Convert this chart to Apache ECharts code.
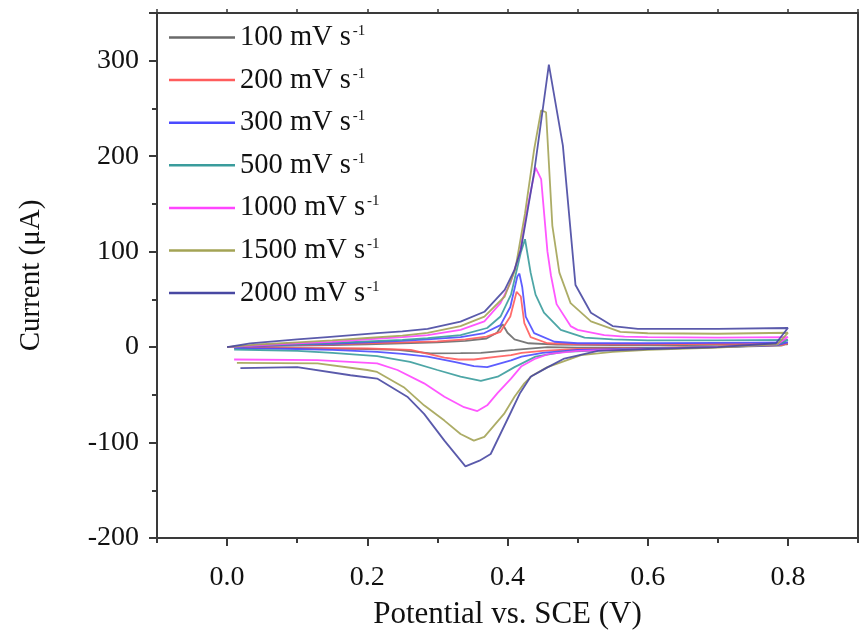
<!DOCTYPE html>
<html>
<head>
<meta charset="utf-8">
<script src="https://cdn.jsdelivr.net/npm/echarts@6/dist/echarts.min.js"></script>
<style>html,body{margin:0;padding:0;background:#fff;}#c{width:861px;height:639px;}</style>
</head>
<body>
<div id="c"></div>
<script>
// ---- tick labels ----
const xTickValues = [0.0, 0.2, 0.4, 0.6, 0.8];
const xMinorValues = [-0.1, 0.1, 0.3, 0.5, 0.7, 0.9];
const legendNames = ['100 mV s', '200 mV s', '300 mV s', '500 mV s', '1000 mV s', '1500 mV s', '2000 mV s'];

// ---- data: potential (V) and current (uA), forward then reverse scan ----
const E100 = [0,0.05,0.1,0.15,0.2,0.25,0.3,0.34,0.37,0.385,0.393,0.4,0.41,0.43,0.47,0.55,0.65,0.75,0.8,
              0.79,0.7,0.6,0.5,0.457,0.41,0.362,0.333,0.29,0.243,0.2,0.1,0.01];
const I100 = [0,1,1.5,2,3,4,5,6.5,9,15,24,15,8,4,2.5,2,2,2.5,3,
              1.5,0,-0.5,-0.5,0,-3,-6,-6.3,-6.5,-3,-2,-1,-0.5];

const E200 = [0,0.05,0.1,0.15,0.2,0.25,0.3,0.34,0.37,0.39,0.404,0.413,0.419,0.424,0.433,0.457,0.5,0.6,0.7,0.8,
              0.79,0.7,0.6,0.5,0.45,0.42,0.405,0.386,0.352,0.33,0.31,0.262,0.2,0.1,0.01];
const I200 = [0,1.5,2,3,4,5,6,8,11,16,32,58,53,25,10.5,4,3,3,3.5,4,
              2,0.5,-1,-2,-4,-6,-8.4,-10,-13,-13,-11,-3,-1.5,-1,-0.5];

const E300 = [0,0.05,0.1,0.15,0.2,0.25,0.286,0.333,0.367,0.39,0.404,0.414,0.417,0.421,0.426,0.438,0.467,0.5,0.6,0.7,0.8,
              0.785,0.7,0.6,0.5,0.45,0.42,0.405,0.371,0.352,0.324,0.286,0.25,0.214,0.15,0.1,0.01];
const I300 = [0,1.5,2.5,3.5,5,6.5,8,10.5,14.7,23,42,74,77,63,32,14.7,5.6,4,4,4.5,5,
              2,0,-1.5,-3,-6,-10,-14,-21,-20,-15.5,-10,-7,-5,-3,-2,-1];

const E500 = [0,0.05,0.1,0.15,0.2,0.25,0.286,0.333,0.371,0.39,0.405,0.419,0.425,0.433,0.44,0.452,0.476,0.51,0.55,0.6,0.7,0.8,
              0.785,0.7,0.6,0.55,0.48,0.44,0.41,0.386,0.362,0.333,0.3,0.261,0.214,0.15,0.1,0.01];
const I500 = [0,2,3,4.5,6,7.5,9.5,12.6,20,32,55,99,113,78,55,36,18,10,8,7,7,7.5,
              2.5,0,-1.5,-3,-5,-10,-21,-31,-35.5,-31,-24,-15.5,-9.5,-6,-4,-2.5];

const E1000 = [0,0.05,0.1,0.15,0.2,0.25,0.286,0.333,0.367,0.39,0.404,0.418,0.429,0.44,0.448,0.457,0.462,0.47,0.49,0.5,0.538,0.567,0.6,0.7,0.8,
               0.785,0.7,0.6,0.5,0.46,0.44,0.42,0.405,0.386,0.371,0.357,0.338,0.31,0.281,0.243,0.214,0.129,0.01];
const I1000 = [0,2,4,5.5,8,10.5,12.6,18,27,46,67,100,148,188,176,100,75,45,22,18,12.6,11,10.5,10,10.5,
               3,0,-2,-4,-7,-12,-20,-33,-48,-61,-67,-63,-52,-38,-24,-17,-13.7,-13];

const E1500 = [0,0.05,0.1,0.15,0.2,0.25,0.286,0.333,0.367,0.396,0.411,0.425,0.438,0.448,0.455,0.464,0.474,0.49,0.519,0.561,0.6,0.7,0.8,
               0.785,0.7,0.6,0.55,0.505,0.457,0.435,0.424,0.41,0.395,0.367,0.352,0.333,0.31,0.281,0.252,0.214,0.2,0.129,0.014];
const I1500 = [0,3,5,7,9.5,12,15,22,32,53,81,140,207,248,246,127,78,46,27,16,14.5,14,15,
               3,-0.5,-3,-5,-8.4,-21,-30,-38,-52,-70,-94,-98,-91,-77,-61,-42,-26,-24,-17,-16.5];

const E2000 = [0,0.033,0.1,0.143,0.214,0.25,0.286,0.333,0.367,0.396,0.41,0.419,0.428,0.438,0.459,0.479,0.497,0.519,0.55,0.586,0.7,0.8,
               0.783,0.7,0.6,0.529,0.481,0.455,0.433,0.418,0.405,0.376,0.36,0.34,0.31,0.281,0.257,0.214,0.176,0.1,0.019];
const I2000 = [0,4,8,10.5,14.7,16.5,19,26.6,37,60,81,102,140,183,296,211,65,36,22,19,19,20,
               4,0,-2,-4,-12,-22,-31,-48,-68,-112,-119,-125,-98,-70,-52,-33,-29.5,-21,-22];

const colors = ['#6a6a6a', '#ff5c5c', '#4b4bff', '#3a9c9c', '#ff45ff', '#a3a355', '#4848a2'];
const Es = [E100, E200, E300, E500, E1000, E1500, E2000];
const Is = [I100, I200, I300, I500, I1000, I1500, I2000];

const font = 'Liberation Serif, Times New Roman, serif';
const series = Es.map((E, k) => ({
  name: legendNames[k],
  type: 'line',
  xAxisIndex: 0, yAxisIndex: 0,
  data: E.map((x, i) => [x, Is[k][i]]),
  showSymbol: false,
  symbol: 'none',
  lineStyle: { color: colors[k], width: 1.8, opacity: 0.9 },
  itemStyle: { color: colors[k] },
  animation: false,
  z: 3
}));

const axCol = '#3a3a3a';
const chart = echarts.init(document.getElementById('c'), null, { renderer: 'canvas' });
chart.setOption({
  backgroundColor: '#fff',
  animation: false,
  grid: { left: 157, right: 3, top: 13, bottom: 101, containLabel: false },
  legend: {
    left: 164, top: 18, orient: 'vertical',
    icon: 'rect', itemWidth: 66, itemHeight: 2.5, itemGap: 13.6,
    data: legendNames,
    formatter: n => '{a|' + n + '}{b|-1}',
    textStyle: {
      rich: {
        a: { fontFamily: font, fontSize: 28.5, color: '#111', lineHeight: 28 },
        b: { fontFamily: font, fontSize: 15, color: '#111', verticalAlign: 'top', lineHeight: 15, padding: [0, 0, 0, 2] }
      }
    }
  },
  xAxis: [
    {
      type: 'value', min: -0.1, max: 0.9, position: 'bottom',
      name: 'Potential vs. SCE (V)', nameLocation: 'middle', nameGap: 61,
      nameTextStyle: { fontFamily: font, fontSize: 31, color: '#111' },
      axisLine: { show: true, onZero: false, lineStyle: { color: axCol, width: 2 } },
      axisTick: { show: true, customValues: xTickValues, length: 8, lineStyle: { color: axCol, width: 2 } },
      axisLabel: { show: true, customValues: xTickValues, margin: 26, fontFamily: font, fontSize: 28, color: '#111',
                   formatter: v => v.toFixed(1) },
      splitLine: { show: false }
    },
    {
      type: 'value', min: -0.1, max: 0.9, position: 'bottom',
      axisLine: { show: false, onZero: false },
      axisTick: { show: true, customValues: xMinorValues, length: 5, lineStyle: { color: axCol, width: 2 } },
      axisLabel: { show: false },
      splitLine: { show: false }
    },
    {
      type: 'value', min: -0.1, max: 0.9, position: 'top',
      axisLine: { show: true, onZero: false, lineStyle: { color: axCol, width: 2 } },
      axisTick: { show: true, customValues: xMinorValues.concat(xTickValues), length: 4, lineStyle: { color: axCol, width: 1.5 } },
      axisLabel: { show: false },
      splitLine: { show: false }
    }
  ],
  yAxis: [
    {
      type: 'value', min: -200, max: 350, interval: 100, position: 'left',
      name: 'Current (\u03bcA)', nameLocation: 'middle', nameGap: 111,
      nameTextStyle: { fontFamily: font, fontSize: 29, color: '#111' },
      axisLine: { show: true, onZero: false, lineStyle: { color: axCol, width: 2 } },
      axisTick: { show: true, length: 8, lineStyle: { color: axCol, width: 2 } },
      minorTick: { show: true, splitNumber: 2, length: 5, lineStyle: { color: axCol, width: 2 } },
      axisLabel: { margin: 18, fontFamily: font, fontSize: 28, color: '#111',
                   formatter: v => (v > 300 ? '' : String(v)) },
      splitLine: { show: false }
    },
    {
      type: 'value', min: -200, max: 350, interval: 100, position: 'right',
      axisLine: { show: true, onZero: false, lineStyle: { color: axCol, width: 2 } },
      axisTick: { show: false },
      axisLabel: { show: false },
      splitLine: { show: false }
    }
  ],
  series: series
});
</script>
</body>
</html>
